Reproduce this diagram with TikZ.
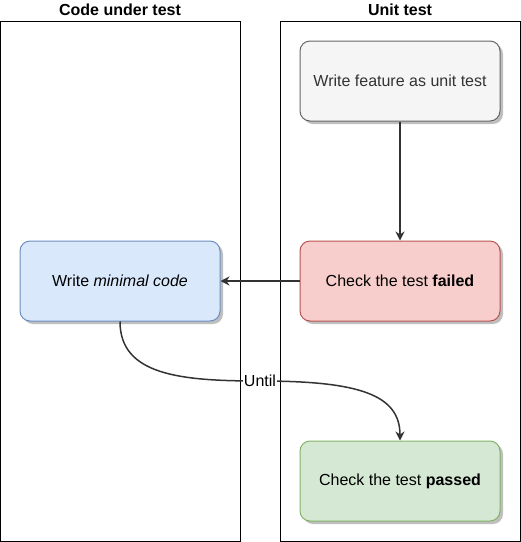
\documentclass[tikz,border=0pt]{standalone}
\usepackage{fontspec}
\setmainfont{Liberation Sans}
\usetikzlibrary{arrows.meta,shadows}
\definecolor{grayfill}{HTML}{F5F5F5}
\definecolor{graydraw}{HTML}{666666}
\definecolor{graytext}{HTML}{333333}
\definecolor{redfill}{HTML}{F8CECC}
\definecolor{reddraw}{HTML}{B85450}
\definecolor{bluefill}{HTML}{DAE8FC}
\definecolor{bluedraw}{HTML}{6C8EBF}
\definecolor{greenfill}{HTML}{D5E8D4}
\definecolor{greendraw}{HTML}{82B366}
\definecolor{edgecol}{HTML}{333333}
\tikzset{
  pool/.style={draw=black, line width=1pt, minimum width=240pt, minimum height=520pt, inner sep=0pt},
  pooltitle/.style={font=\fontsize{16}{19}\selectfont\bfseries, inner sep=0pt},
  procbox/.style={rounded corners=10pt, minimum width=200pt, minimum height=80pt, line width=1pt,
     font=\fontsize{16}{19}\selectfont, inner sep=0pt,
     drop shadow={shadow xshift=3pt, shadow yshift=-3pt, fill=black!25, opacity=1}},
  flow/.style={draw=edgecol, line width=1.5pt, -{Stealth[length=9pt,width=9pt,inset=3pt]}},
}
\begin{document}
\begin{tikzpicture}[x=1pt,y=-1pt]
\useasboundingbox (0,0) rectangle (521,542);
\node[pool] (leftpool) at (120.5,281) {};
\node[pool] (rightpool) at (400.5,281) {};
\node[pooltitle] (lefttitle) at (120,10) {Code under test};
\node[pooltitle] (righttitle) at (400,10) {Unit test};
\node[procbox, fill=grayfill, draw=graydraw, text=graytext] (write) at (400,81) {Write feature as unit test};
\node[procbox, fill=redfill, draw=reddraw] (failed) at (400,281) {Check the test \textbf{failed}};
\node[procbox, fill=bluefill, draw=bluedraw] (code) at (120,281) {Write \textit{minimal code}};
\node[procbox, fill=greenfill, draw=greendraw] (passed) at (400,481) {Check the test \textbf{passed}};
\draw[flow] (write) -- (failed);
\draw[flow] (failed) -- (code);
\coordinate (mid) at (260,381);
\draw[flow] (code.south) .. controls (120,375) and (180,381) .. (mid)
   .. controls (360,381) and (400,395) .. (passed.north);
\node[fill=white, inner sep=0.5pt, font=\fontsize{16}{19}\selectfont] (until) at (mid) {Until};
\end{tikzpicture}
\end{document}
